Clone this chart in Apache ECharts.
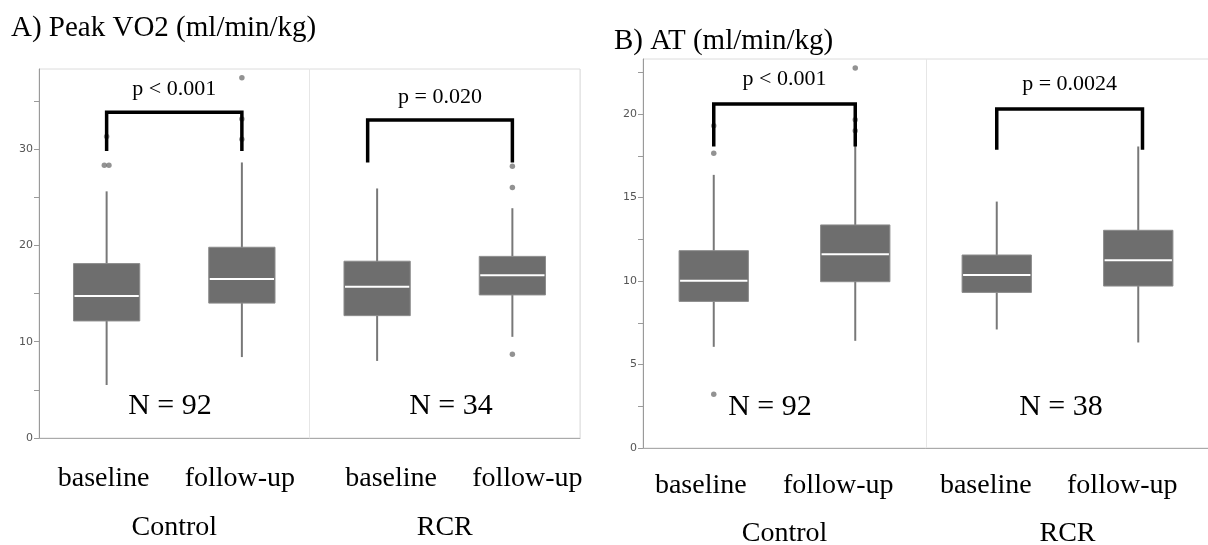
<!DOCTYPE html>
<html>
<head>
<meta charset="utf-8">
<script src="https://cdn.jsdelivr.net/npm/echarts@6/dist/echarts.min.js"></script>
<style>html,body{margin:0;padding:0;background:#fff}#c{width:1208px;height:545px}</style>
</head>
<body>
<div id="c"></div>
<script>
// ---------- data ----------
const categories = ['baseline', 'follow-up', 'baseline', 'follow-up'];
const groups = ['Control', 'RCR'];
// [min, Q1, median, Q3, max]
const peakVO2Box = [
  [5.5, 12.15, 14.75, 18.1, 25.6],
  [8.4, 14.0, 16.5, 19.8, 28.6],
  [8.0, 12.7, 15.7, 18.35, 25.9],
  [10.5, 14.85, 16.9, 18.85, 23.85]
];
// [category position, value]
const peakVO2Outliers = [
  [-0.017, 28.3], [0.017, 28.3], [0, 31.3],
  [1, 37.4], [1, 33.1], [1, 31.0],
  [3, 28.2], [3, 26.0], [3, 8.7]
];
// [x start, x end, top, bottom]
const peakVO2Brackets = [
  [0, 1, 33.8, 29.8],
  [1.93, 3, 33.0, 28.6]
];
const peakVO2P = ['p < 0.001', 'p = 0.020'];
const peakVO2N = ['N = 92', 'N = 34'];

const atBox = [
  [6.06, 8.78, 10.02, 11.82, 16.36],
  [6.42, 9.96, 11.6, 13.36, 18.36],
  [7.1, 9.32, 10.36, 11.56, 14.76],
  [6.32, 9.7, 11.24, 13.04, 18.06]
];
const atOutliers = [
  [0, 17.66], [0, 19.3], [0, 3.22],
  [1, 22.76], [1, 19.66], [1, 19.0]
];
const atBrackets = [
  [0, 1, 20.6, 18.06],
  [2, 3.03, 20.3, 17.86]
];
const atP = ['p < 0.001', 'p = 0.0024'];
const atN = ['N = 92', 'N = 38'];

const peakTicks = [0, 5, 10, 15, 20, 25, 30, 35];
const peakLabels = [0, 10, 20, 30];
const atTicks = [0, 2.5, 5, 7.5, 10, 12.5, 15, 17.5, 20, 22.5];
const atLabels = [0, 5, 10, 15, 20];

// ---------- styling / helpers ----------
const SERIF = 'Liberation Serif';
const BOX_FRAC = 0.49;

function renderBox(params, api) {
  const x = api.value(0);
  const lo = api.value(1), q1 = api.value(2), med = api.value(3), q3 = api.value(4), hi = api.value(5);
  const w = api.size([1, 0])[0] * BOX_FRAC;
  const pLo = api.coord([x, lo]), pHi = api.coord([x, hi]);
  const pQ1 = api.coord([x, q1]), pQ3 = api.coord([x, q3]), pMed = api.coord([x, med]);
  return {
    type: 'group',
    children: [
      { type: 'line', shape: { x1: pLo[0], y1: pLo[1], x2: pHi[0], y2: pHi[1] }, style: { stroke: '#787878', lineWidth: 2 } },
      { type: 'rect', shape: { x: pQ1[0] - w / 2, y: pQ3[1], width: w, height: pQ1[1] - pQ3[1] }, style: { fill: '#6e6e6e', stroke: '#8c8c8c', lineWidth: 1 } },
      { type: 'line', shape: { x1: pMed[0] - w / 2 + 1, y1: pMed[1], x2: pMed[0] + w / 2 - 1, y2: pMed[1] }, style: { stroke: '#ffffff', lineWidth: 2 } }
    ]
  };
}

function makeBracketRenderer(labels, gap) {
  return function (params, api) {
    const x1 = api.value(0), x2 = api.value(1), yt = api.value(2), yb = api.value(3);
    const a = api.coord([x1, yb]), b = api.coord([x1, yt]), c = api.coord([x2, yt]), d = api.coord([x2, yb]);
    return {
      type: 'group',
      children: [
        { type: 'polyline', shape: { points: [a, b, c, d] }, style: { stroke: '#000', lineWidth: 3.5, fill: null, lineJoin: 'miter' } },
        { type: 'text', style: { text: labels[params.dataIndex], x: (b[0] + c[0]) / 2, y: b[1] - gap, align: 'center', verticalAlign: 'bottom', fontFamily: SERIF, fontSize: 22, fill: '#000' } }
      ]
    };
  };
}

function catData(shifts) {
  return categories.map((c, i) => {
    const s = shifts[i];
    return { value: c, textStyle: { padding: s >= 0 ? [0, 0, 0, 2 * s] : [0, -2 * s, 0, 0] } };
  });
}

const grids = [
  { left: 39, top: 69, width: 541, height: 369, show: true, borderColor: '#dcdcdc', borderWidth: 1, outerBoundsMode: 'none', containLabel: false },
  { left: 643, top: 59, width: 566, height: 389, show: true, borderColor: '#dcdcdc', borderWidth: 1, outerBoundsMode: 'none', containLabel: false }
];

function xAxesFor(gi, shifts, labelMargin, groupMargin) {
  return [
    {
      type: 'category', gridIndex: gi, data: catData(shifts), position: 'bottom',
      axisLine: { show: true, onZero: false, lineStyle: { color: '#aaaaaa', width: 1 } },
      axisTick: { show: false },
      axisLabel: { fontFamily: SERIF, fontSize: 28, color: '#000', margin: labelMargin, interval: 0 },
      splitLine: { show: false }
    },
    {
      type: 'category', gridIndex: gi, data: groups, position: 'bottom',
      axisLine: { show: false, onZero: false }, axisTick: { show: false },
      axisLabel: { fontFamily: SERIF, fontSize: 28, color: '#000', margin: groupMargin },
      splitLine: { show: true, lineStyle: { color: '#e6e6e6', width: 1 } }
    },
    { type: 'value', gridIndex: gi, min: -0.5, max: 3.5, show: false, splitLine: { show: false } }
  ];
}

function yAxisFor(gi, max, ticks, labels) {
  return {
    type: 'value', gridIndex: gi, min: 0, max: max, position: 'left',
    axisLine: { show: true, onZero: false, lineStyle: { color: '#9a9a9a', width: 1 } },
    axisTick: { show: true, length: 5, customValues: ticks, lineStyle: { color: '#9a9a9a' } },
    axisLabel: { customValues: labels, fontFamily: 'DejaVu Sans', fontSize: 11, color: '#555', margin: 6 },
    splitLine: { show: false }
  };
}

const option = {
  animation: false,
  backgroundColor: '#fff',
  grid: grids,
  xAxis: [
    ...xAxesFor(0, [-3, -2, 14, 15], 27, 76),
    ...xAxesFor(1, [-13, -17, -11, -16], 24, 72)
  ],
  yAxis: [
    yAxisFor(0, 38.3, peakTicks, peakLabels),
    yAxisFor(1, 23.3, atTicks, atLabels)
  ],
  series: [
    { type: 'custom', xAxisIndex: 2, yAxisIndex: 0, renderItem: renderBox, data: peakVO2Box.map((b, i) => [i, ...b]), z: 2 },
    { type: 'scatter', xAxisIndex: 2, yAxisIndex: 0, data: peakVO2Outliers, symbolSize: 5.5, itemStyle: { color: '#777' }, z: 3 },
    { type: 'custom', xAxisIndex: 2, yAxisIndex: 0, renderItem: makeBracketRenderer(peakVO2P, 12), data: peakVO2Brackets, z: 4 },
    { type: 'custom', xAxisIndex: 5, yAxisIndex: 1, renderItem: renderBox, data: atBox.map((b, i) => [i, ...b]), z: 2 },
    { type: 'scatter', xAxisIndex: 5, yAxisIndex: 1, data: atOutliers, symbolSize: 5.5, itemStyle: { color: '#777' }, z: 3 },
    { type: 'custom', xAxisIndex: 5, yAxisIndex: 1, renderItem: makeBracketRenderer(atP, 14), data: atBrackets, z: 4 }
  ],
  graphic: [
    { type: 'text', left: 11, top: 14, style: { text: 'A) Peak VO2 (ml/min/kg)', fontFamily: SERIF, fontSize: 29, fill: '#000' } },
    { type: 'text', left: 614, top: 27, style: { text: 'B) AT (ml/min/kg)', fontFamily: SERIF, fontSize: 29, fill: '#000' } },
    { type: 'text', x: 170, y: 406, style: { text: peakVO2N[0], align: 'center', verticalAlign: 'middle', fontFamily: SERIF, fontSize: 30, fill: '#000' } },
    { type: 'text', x: 451, y: 406, style: { text: peakVO2N[1], align: 'center', verticalAlign: 'middle', fontFamily: SERIF, fontSize: 30, fill: '#000' } },
    { type: 'text', x: 770, y: 407, style: { text: atN[0], align: 'center', verticalAlign: 'middle', fontFamily: SERIF, fontSize: 30, fill: '#000' } },
    { type: 'text', x: 1061, y: 407, style: { text: atN[1], align: 'center', verticalAlign: 'middle', fontFamily: SERIF, fontSize: 30, fill: '#000' } }
  ]
};

const chart = echarts.init(document.getElementById('c'), null, { renderer: 'canvas' });
chart.setOption(option);
</script>
</body>
</html>
